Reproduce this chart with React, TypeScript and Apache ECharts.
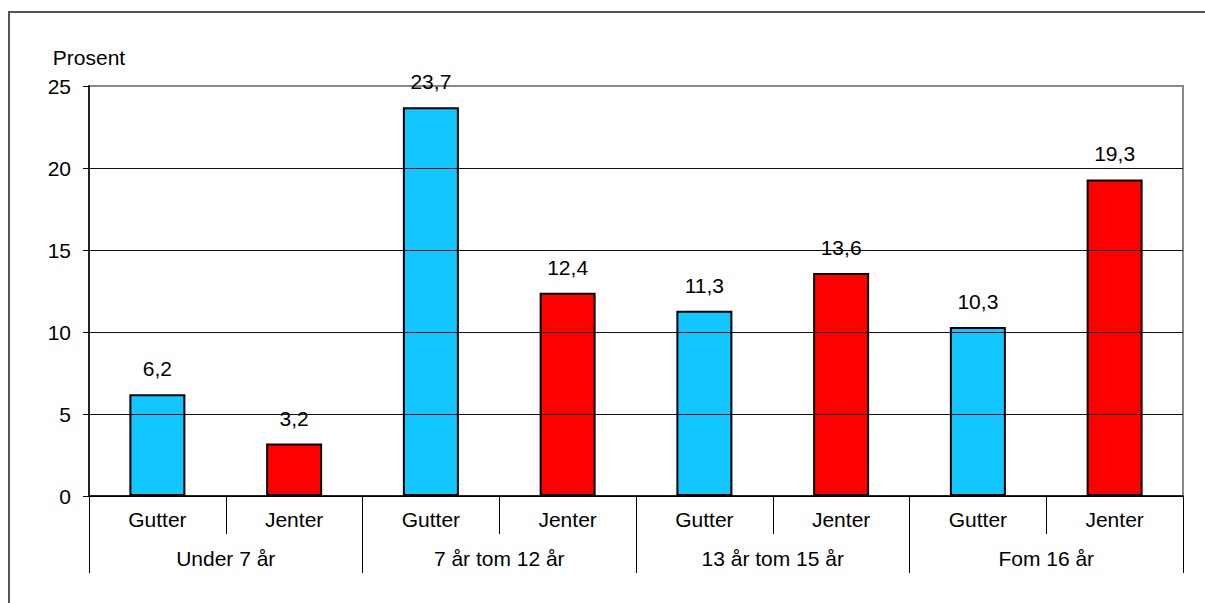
import React, { useEffect, useRef } from "react";
import * as echarts from "echarts";

const sexLabels = ["Gutter", "Jenter", "Gutter", "Jenter", "Gutter", "Jenter", "Gutter", "Jenter"];
const groupLabels = ["Under 7 år", "7 år tom 12 år", "13 år tom 15 år", "Fom 16 år"];
const values = [6.2, 3.2, 23.7, 12.4, 11.3, 13.6, 10.3, 19.3];
const barColors = ["#12C6FF", "#FF0000", "#12C6FF", "#FF0000", "#12C6FF", "#FF0000", "#12C6FF", "#FF0000"];
const yAxisName = "Prosent";

const FONT = "'Liberation Sans', Arial, sans-serif";

export default function App() {
  const ref = useRef<HTMLDivElement>(null);
  useEffect(() => {
    if (!ref.current) return;
    const chart = echarts.init(ref.current, undefined, { renderer: "svg" });
    chart.setOption({
      animation: false,
      backgroundColor: "#ffffff",
      textStyle: { fontFamily: FONT },
      graphic: [
        {
          type: "rect",
          shape: { x: 9, y: 12, width: 1400, height: 800 },
          style: { fill: "none", stroke: "#555555", lineWidth: 2 },
          z: 100,
          silent: true,
        },
      ],
      grid: {
        left: 89,
        right: 22,
        top: 86,
        bottom: 107,
        show: true,
        borderColor: "#888888",
        borderWidth: 2,
        backgroundColor: "transparent",
      },
      xAxis: [
        {
          type: "category",
          data: sexLabels,
          position: "bottom",
          axisLine: { show: true, lineStyle: { color: "#000", width: 1.5 } },
          axisTick: { show: true, interval: 0, length: 38, lineStyle: { color: "#000", width: 1 } },
          axisLabel: { interval: 0, margin: 13, fontSize: 21, color: "#000", fontFamily: FONT },
          splitLine: { show: false },
          z: 5,
        },
        {
          type: "category",
          data: groupLabels,
          position: "bottom",
          axisLine: { show: false },
          axisTick: { show: true, interval: 0, length: 77, lineStyle: { color: "#000", width: 1 } },
          axisLabel: { interval: 0, margin: 52, fontSize: 21, color: "#000", fontFamily: FONT },
          splitLine: { show: false },
        },
      ],
      yAxis: {
        type: "value",
        min: 0,
        max: 25,
        interval: 5,
        name: yAxisName,
        nameLocation: "end",
        nameGap: 18,
        nameTextStyle: { fontSize: 21, color: "#000", fontFamily: FONT, align: "center" },
        axisLine: { show: true, lineStyle: { color: "#000", width: 1.5 } },
        axisTick: { show: true, length: 6, lineStyle: { color: "#000" } },
        axisLabel: { fontSize: 21, color: "#000", margin: 18, fontFamily: FONT },
        splitLine: {
          show: true,
          lineStyle: { color: ["#000", "#111", "#111", "#111", "#111", "transparent"], width: 1 },
        },
        z: 5,
      },
      series: [
        {
          type: "bar",
          xAxisIndex: 0,
          barWidth: 56,
          data: values.map((v, i) => ({
            value: v,
            itemStyle: { color: barColors[i], borderColor: "#000", borderWidth: 2 },
          })),
          label: {
            show: true,
            position: "top",
            distance: 15,
            fontSize: 21,
            color: "#000",
            fontFamily: FONT,
            formatter: (p: any) => String(p.value).replace(".", ","),
          },
          z: 3,
        },
      ],
    });
    return () => chart.dispose();
  }, []);
  return (
    <div
      ref={ref}
      style={{ position: "fixed", left: 0, top: 0, width: 1205, height: 603 }}
    />
  );
}
